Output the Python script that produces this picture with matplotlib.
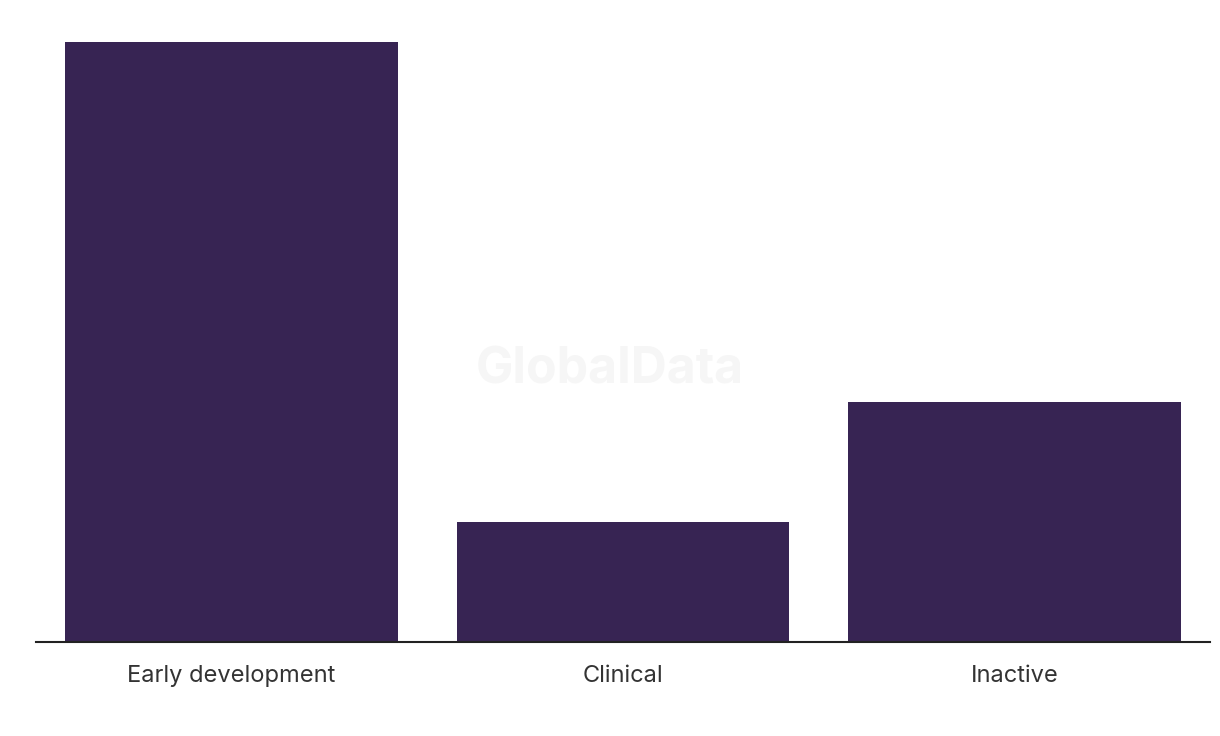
import matplotlib
matplotlib.use("Agg")
import matplotlib.pyplot as plt

categories = ["Early development", "Clinical", "Inactive"]
values = [5, 1, 2]

plt.rcParams['font.family'] = ['Inter', 'DejaVu Sans']

fig = plt.figure(figsize=(12.2, 7.36), dpi=100)
ax = fig.add_axes([35.5/1220, 1-641.5/736, 1175/1220, (641.5-42)/736])
x = list(range(len(categories)))
ax.bar(x, values, width=0.85, color="#372453", zorder=2)
ax.set_xlim(-0.5, 2.5)
ax.set_ylim(0, 5)
ax.set_xticks(x)
ax.set_xticklabels(categories, fontsize=17, color="#333333")
ax.tick_params(axis='x', length=0, pad=17)
ax.set_yticks([])
for s in ["top", "right", "left"]:
    ax.spines[s].set_visible(False)
ax.spines["bottom"].set_color("#222222")
ax.spines["bottom"].set_linewidth(1.5)
ax.spines["bottom"].set_zorder(3)
fig.text(610/1220, 1-370/736, "GlobalData", fontsize=36, fontweight="bold",
         color="#f6f6f6", ha="center", va="center", zorder=0)
fig.savefig("out.png", dpi=100, facecolor="white")
